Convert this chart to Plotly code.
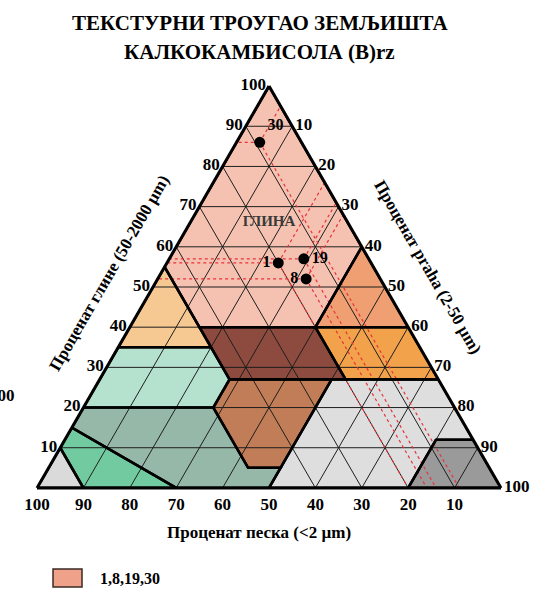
import plotly.graph_objects as go

# ---------------- data ----------------
TITLE_LINES = ["ТЕКСТУРНИ ТРОУГАО ЗЕМЉИШТА", "КАЛКОКАМБИСОЛА (B)rz"]
A_TITLE = "Проценат глине (50-2000 µm)"
C_TITLE = "Проценат praha (2-50 µm)"
B_TITLE = "Проценат песка (<2 µm)"
TICKS = [10, 20, 30, 40, 50, 60, 70, 80, 90, 100]
GRID_A_VALUES = [10, 20, 30, 40, 50, 60, 70, 80, 90]
GRID_B_VALUES = [10, 20, 30, 40]
GRID_C_VALUES = [10, 20, 30, 40, 50, 60, 70, 80, 90]

# texture class polygons  (a = left axis, b = bottom axis, c = right axis)
REGION_NAMES = ["clay", "sandy clay", "silty clay", "clay loam", "silty clay loam",
                "sandy clay loam", "loam", "silt loam", "silt", "sandy loam",
                "loamy sand", "sand"]
REGION_A = [[100, 60, 40, 40, 55], [55, 35, 35, 40], [60, 40, 40], [40, 27, 27, 40],
            [40, 27, 27, 40], [35, 20, 20, 27, 35], [27, 20, 5, 5, 27],
            [27, 27, 12, 12, 0, 0, 5], [12, 12, 0, 0], [20, 20, 5, 5, 0, 0, 15],
            [15, 0, 0, 10], [10, 0, 0]]
REGION_B = [[0, 0, 20, 45, 45], [45, 65, 45, 45], [0, 0, 20], [45, 45, 20, 20],
            [0, 0, 20, 20], [65, 80, 52, 45, 45], [45, 52, 52, 45, 23],
            [23, 0, 0, 8, 20, 50, 45], [8, 0, 0, 20], [80, 52, 52, 45, 50, 70, 85],
            [85, 70, 90, 90], [90, 90, 100]]
REGION_C = [[0, 40, 40, 15, 0], [0, 0, 20, 15], [40, 60, 40], [15, 28, 53, 40],
            [60, 73, 53, 40], [0, 0, 28, 28, 20], [28, 28, 43, 50, 50],
            [50, 73, 88, 80, 80, 50, 50], [80, 88, 100, 80], [0, 28, 43, 50, 50, 30, 0],
            [0, 30, 10, 0], [0, 10, 0]]
REGION_COLORS = ["#f5c2b1", "#f6c992", "#ef9f72", "#8c4b3e", "#f2a24a", "#b5e2cf",
                 "#c17d57", "#dedede", "#9a9a9a", "#96b8a8", "#72cba0", "#dadada"]

CLASS_LABEL = "ГЛИНА"
CLASS_LABEL_A, CLASS_LABEL_B, CLASS_LABEL_C = 66, 17, 17

SAMPLE_IDS = ["1", "8", "19", "30"]
SAMPLE_A = [56, 52, 57, 86]
SAMPLE_B = [20, 16, 14, 9]
SAMPLE_C = [24, 32, 29, 5]
SAMPLE_TEXTPOS = ["middle left", "middle left", "middle right", "top right"]

# ---------------- figure ----------------
SERIF = "Liberation Serif"
fig = go.Figure()

# fills
for name, a, b, c, col in zip(REGION_NAMES, REGION_A, REGION_B, REGION_C, REGION_COLORS):
    fig.add_trace(go.Scatterternary(
        a=a + a[:1], b=b + b[:1], c=c + c[:1], mode="lines", fill="toself",
        fillcolor=col, line=dict(color=col, width=0), name=name,
        hoverinfo="name", showlegend=False))

# thin grid (drawn over the fills)
grid_line = dict(color="#1e1e1e", width=1)
grid_segments = []
for v in GRID_A_VALUES:
    grid_segments.append(([v, v], [100 - v, 0], [0, 100 - v]))
for v in GRID_B_VALUES:
    grid_segments.append(([100 - v, 0], [v, v], [0, 100 - v]))
for v in GRID_C_VALUES:
    grid_segments.append(([100 - v, 0], [0, 100 - v], [v, v]))
for aa, bb, cc in grid_segments:
    fig.add_trace(go.Scatterternary(a=aa, b=bb, c=cc, mode="lines", line=grid_line,
                                    showlegend=False, hoverinfo="skip"))

# dotted red reading lines from each sample to the three edges
for a, b, c in zip(SAMPLE_A, SAMPLE_B, SAMPLE_C):
    for aa, bb, cc in (([a, a], [b, 100 - a], [c, 0]),
                       ([a, 0], [b, b], [c, 100 - b]),
                       ([a, 100 - c], [b, 0], [c, c])):
        fig.add_trace(go.Scatterternary(
            a=aa, b=bb, c=cc, mode="lines", showlegend=False, hoverinfo="skip",
            line=dict(color="#e8323a", width=1.2, dash="dot")))

# thick class borders
for name, a, b, c in zip(REGION_NAMES, REGION_A, REGION_B, REGION_C):
    fig.add_trace(go.Scatterternary(
        a=a + a[:1], b=b + b[:1], c=c + c[:1], mode="lines",
        line=dict(color="black", width=2.6), showlegend=False, hoverinfo="skip"))

fig.add_trace(go.Scatterternary(
    a=[CLASS_LABEL_A], b=[CLASS_LABEL_B], c=[CLASS_LABEL_C], mode="text",
    text=[CLASS_LABEL], showlegend=False, hoverinfo="skip",
    textfont=dict(family=SERIF, size=15, color="#3a3a3a", weight="bold")))

fig.add_trace(go.Scatterternary(
    a=SAMPLE_A, b=SAMPLE_B, c=SAMPLE_C, mode="markers+text", text=SAMPLE_IDS,
    textposition=SAMPLE_TEXTPOS, showlegend=False,
    marker=dict(color="black", size=11),
    textfont=dict(family=SERIF, size=16, color="black", weight="bold")))

axis_common = dict(
    tickmode="array", tickvals=TICKS, ticktext=[str(t) for t in TICKS],
    ticks="", showgrid=False,
    showline=True, linecolor="black", linewidth=3, layer="above traces",
    tickfont=dict(family=SERIF, size=17, color="black", weight="bold"),
    title=dict(text=""), min=0)

fig.update_layout(
    width=541, height=591,
    margin=dict(l=37, r=40, t=86, b=103),
    paper_bgcolor="white",
    showlegend=False,
    ternary=dict(sum=100, bgcolor="white",
                 domain=dict(x=[0, 1], y=[0, 1]),
                 aaxis=axis_common, baxis=axis_common, caxis=axis_common),
)

# title lines
for line, yp in zip(TITLE_LINES, [1.157, 1.085]):
    fig.add_annotation(text=line, xref="paper", yref="paper", x=0.4806, y=yp,
                       xanchor="center", yanchor="middle", showarrow=False,
                       font=dict(family=SERIF, size=21, color="black", weight="bold"))

title_font = dict(family=SERIF, size=17, color="black", weight="bold")
fig.add_annotation(text=A_TITLE, xref="paper", yref="paper", x=0.157, y=0.535,
                   xanchor="center", yanchor="middle",
                   textangle=-60, showarrow=False, font=title_font)
fig.add_annotation(text=C_TITLE, xref="paper", yref="paper", x=0.841, y=0.55,
                   xanchor="center", yanchor="middle",
                   textangle=60, showarrow=False, font=title_font)
fig.add_annotation(text=B_TITLE, xref="paper", yref="paper", x=0.478, y=-0.111,
                   xanchor="center", yanchor="middle", showarrow=False, font=title_font)
# clipped stray "100" at the far left edge of the original picture
fig.add_annotation(text="100", xref="paper", yref="paper", x=-0.075, y=0.231,
                   xanchor="center", yanchor="middle", showarrow=False, font=title_font)

# legend swatch
fig.add_shape(type="rect", xref="paper", yref="paper", x0=0.0345, x1=0.097,
              y0=-0.246, y1=-0.2015, fillcolor="#f0a18a",
              line=dict(color="#3a2a25", width=1.5))
fig.add_annotation(text=",".join(SAMPLE_IDS), xref="paper", yref="paper",
                   x=0.131, y=-0.224, xanchor="left", yanchor="middle", showarrow=False,
                   font=dict(family=SERIF, size=16, color="black", weight="bold"))

fig.write_html("out.html", config={"displayModeBar": False},
               post_script="document.body.style.margin='0';")
